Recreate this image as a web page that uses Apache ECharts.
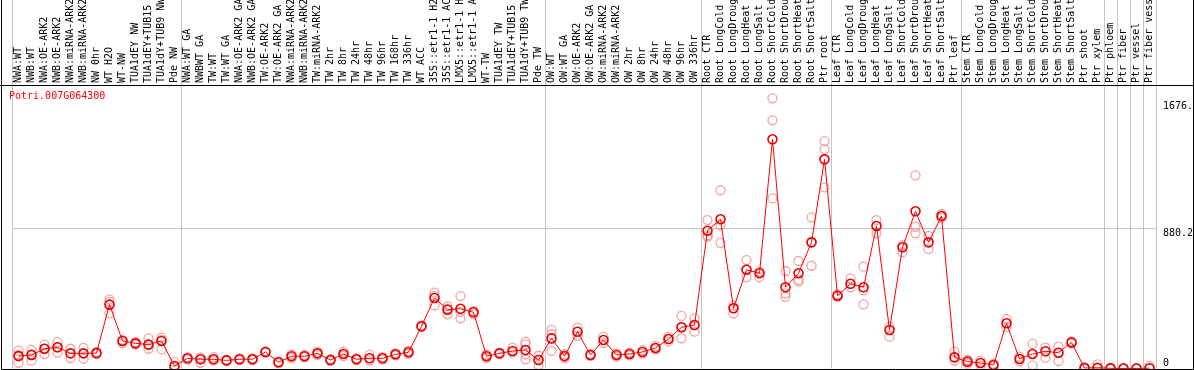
<!DOCTYPE html>
<html><head><meta charset="utf-8">
<script src="https://cdn.jsdelivr.net/npm/echarts@6/dist/echarts.min.js"></script>
<style>html,body{margin:0;padding:0;background:#fff}#c{width:1194px;height:370px}</style>
</head><body><div id="c"></div>
<script>
const geneId = 'Potri.007G064300';
const categories = [
 'NWA:WT','NWB:WT','NWA:OE-ARK2','NWB:OE-ARK2','NWA:miRNA-ARK2','NWB:miRNA-ARK2','NW 0hr','WT H2O','WT-NW','TUA1dEY NW','TUA1dEY+TUB15 NW','TUA1dY+TUB9 NW','Pde NW',
 'NWA:WT GA','NWBWT GA','TW:WT','TW:WT GA','NWA:OE-ARK2 GA','NWB:OE-ARK2 GA','TW:OE-ARK2','TW:OE-ARK2 GA','NWA:miRNA-ARK2 GA','NWB:miRNA-ARK2 GA','TW:miRNA-ARK2','TW 2hr','TW 8hr','TW 24hr','TW 48hr','TW 96hr','TW 168hr','TW 336hr','WT ACC','35S::etr1-1 H2O','35S::etr1-1 ACC','LMX5::etr1-1 H2O','LMX5::etr1-1 ACC','WT-TW','TUA1dEY TW','TUA1dEY+TUB15 TW','TUA1dY+TUB9 TW','Pde TW',
 'OW:WT','OW:WT GA','OW:OE-ARK2','OW:OE-ARK2 GA','OW:miRNA-ARK2','OW:miRNA-ARK2 GA','OW 2hr','OW 8hr','OW 24hr','OW 48hr','OW 96hr','OW 336hr',
 'Root CTR','Root LongCold','Root LongDrought','Root LongHeat','Root LongSalt','Root ShortCold','Root ShortDrought','Root ShortHeat','Root ShortSalt','Ptr root',
 'Leaf CTR','Leaf LongCold','Leaf LongDrought','Leaf LongHeat','Leaf LongSalt','Leaf ShortCold','Leaf ShortDrought','Leaf ShortHeat','Leaf ShortSalt','Ptr leaf',
 'Stem CTR','Stem LongCold','Stem LongDrought','Stem LongHeat','Stem LongSalt','Stem ShortCold','Stem ShortDrought','Stem ShortHeat','Stem ShortSalt','Ptr shoot',
 'Ptr xylem','Ptr phloem','Ptr fiber','Ptr vessel','Ptr fiber vessel'
];
const meanValues = [
 78,85,124,133,95,95,97,401,173,158,
 150,173,16,64,58,58,51,58,58,104,
 39,77,77,95,53,91,58,64,64,89,
 102,265,443,369,375,353,77,95,110,116,
 53,189,78,231,85,179,85,91,104,129,
 185,259,273,865,937,378,620,598,1439,510,
 598,792,1313,457,532,510,895,242,761,987,
 792,957,70,43,35,22,284,60,91,108,
 99,164,3,5,1,0,0,2
];
const rep1 = [
 112,116,150,166,124,129,105,434,180,165,
 189,194,41,72,70,72,55,64,64,108,
 44,88,85,106,58,104,64,87,72,95,
 112,270,476,392,455,360,88,100,131,168,
 80,242,90,256,90,200,95,100,115,140,
 200,330,315,932,1119,395,681,610,1696,612,
 675,949,1428,465,566,639,932,262,775,1213,
 832,970,106,55,50,30,311,75,154,131,
 137,170,8,26,6,2,2,16
];
const rep2 = [
 36,49,91,100,66,62,90,346,158,150,
 124,120,8,56,36,50,47,52,52,100,
 34,66,70,84,48,78,52,50,56,83,
 92,260,397,340,315,340,66,90,100,152,
 22,215,66,205,80,160,75,82,94,118,
 170,190,231,827,901,346,573,573,1558,472,
 556,645,1376,450,510,403,849,200,730,890,
 750,945,50,30,20,12,260,45,20,68,
 47,158,0,0,0,0,0,0
];
const rep3 = [
 86,90,124,133,null,null,null,420,null,null,
 150,180,null,null,null,null,null,null,null,null,
 null,null,null,null,null,null,null,null,null,null,
 null,null,455,375,355,null,null,null,null,88,
 56,110,null,null,null,null,null,null,null,null,
 null,259,273,837,789,null,null,null,1068,450,
 545,792,1137,null,null,490,null,null,null,849,
 null,null,null,null,null,null,null,null,null,null,
 null,null,null,null,null,null,null,null
];
const rep4 = [];
rep4[39] = 58;
const yLabelValues = [880.2, 1676];
const yZeroLabel = [0];
const groupStarts = [0, 13, 41, 53, 63, 73, 84, 85, 86, 87];

const FONT = 'DejaVu Sans Mono';
const GRID = '#c4c4c4';
const repPoints = [];
[rep1, rep2, rep3, rep4].forEach(arr => arr.forEach((v, i) => { if (v != null) repPoints.push([i, v]); }));
const groupSet = new Set(groupStarts);
const YMAX = 2313.5;

const chart = echarts.init(document.getElementById('c'), null, {renderer: 'canvas', width: 1194, height: 370});
chart.setOption({
  backgroundColor: '#ffffff',
  animation: false,
  title: {text: geneId, left: 9, top: 91, padding: 0,
    textStyle: {fontFamily: FONT, fontSize: 10, fontWeight: 'normal', color: '#ff0000'}},
  grid: {left: 12, right: 38, top: 0, bottom: 1.5, containLabel: false, outerBoundsMode: 'none'},
  xAxis: {
    type: 'category', data: categories, position: 'top', offset: -86, boundaryGap: true,
    axisLine: {show: false}, axisTick: {show: false},
    axisLabel: {interval: 0, rotate: 90, margin: 3, fontFamily: FONT, fontSize: 10, color: '#000'},
    splitLine: {show: true, interval: (idx) => groupSet.has(idx), lineStyle: {color: GRID, width: 1}}
  },
  yAxis: [
    {type: 'value', min: 0, max: YMAX, position: 'right',
     axisLine: {show: false}, axisTick: {show: false, customValues: [880.2]},
     axisLabel: {customValues: yLabelValues, margin: 7, verticalAlign: 'top', fontFamily: FONT, fontSize: 10, color: '#000',
       formatter: v => (v === 1676 ? '1676.' : String(v))},
     splitLine: {show: true, lineStyle: {color: GRID, width: 1}}},
    {type: 'value', min: 0, max: YMAX, position: 'right',
     axisLine: {show: false}, axisTick: {show: false, customValues: yZeroLabel},
     axisLabel: {customValues: yZeroLabel, margin: 7, verticalAlign: 'bottom', fontFamily: FONT, fontSize: 10, color: '#000'},
     splitLine: {show: false}}
  ],
  series: [
    {type: 'scatter', data: repPoints, symbol: 'circle', symbolSize: 9, z: 2, silent: true,
     itemStyle: {color: 'rgba(0,0,0,0)', borderColor: '#f08c8c', borderWidth: 1.3}},
    {type: 'line', data: meanValues, symbol: 'circle', symbolSize: 9, showAllSymbol: true, z: 3, silent: true,
     lineStyle: {color: '#ff0000', width: 1},
     itemStyle: {color: 'rgba(0,0,0,0)', borderColor: '#e60000', borderWidth: 1.6}}
  ],
  graphic: [
    {type: 'polyline', silent: true, z: 100,
     shape: {points: [[1.5, -2], [1.5, 369.5], [1193.5, 369.5], [1193.5, -2]]},
     style: {stroke: '#000', lineWidth: 1, fill: null}},
    {type: 'line', silent: true, z: 100,
     shape: {x1: 0, y1: 85.5, x2: 1194, y2: 85.5},
     style: {stroke: '#000', lineWidth: 1}}
  ]
});
</script></body></html>
